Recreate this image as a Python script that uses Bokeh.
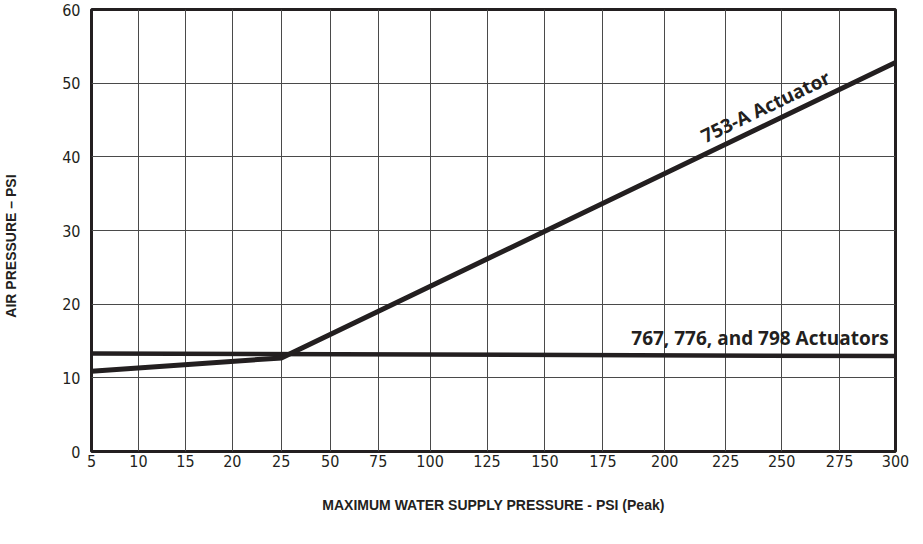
import numpy as np
from bokeh.plotting import figure
from bokeh.models import FixedTicker, Range1d
from bokeh.core.properties import value
from bokeh.embed import file_html
from bokeh.resources import INLINE

# ---- data ----
x_tick_labels = [5, 10, 15, 20, 25, 50, 75, 100, 125, 150, 175, 200, 225, 250, 275, 300]
y_ticks = [0, 10, 20, 30, 40, 50, 60]

pressure_753 = [5, 25, 300]
air_753 = [10.9, 12.7, 52.8]

pressure_767 = [5, 300]
air_767 = [13.3, 12.95]

label_753 = "753-A Actuator"
label_767 = "767, 776, and 798 Actuators"

# ---- piecewise x scale: axis position of each tick (chart's uneven grid) ----
x_tick_pos = [0, 47, 94, 141, 190, 239, 287, 339, 396, 454, 512, 574, 635, 691, 749, 805]


def xs(p):
    return np.interp(p, x_tick_labels, x_tick_pos)


INK = "#231f20"
TICK_FONT = "'Liberation Sans Narrow', 'DejaVu Sans Condensed', sans-serif"
TITLE_FONT = "'Liberation Sans Narrow', sans-serif"

FRAME_H = 442
p = figure(width=913, height=536, output_backend="svg", toolbar_location=None,
           x_range=Range1d(0, 805), y_range=Range1d(0, 60),
           min_border_left=91, min_border_right=18, min_border_top=9,
           min_border_bottom=85)
p.background_fill_color = "white"
p.border_fill_color = "white"
p.outline_line_color = INK
p.outline_line_width = 3

# axes
p.xaxis.ticker = FixedTicker(ticks=x_tick_pos)
p.xaxis.major_label_overrides = {pos: str(lab) for pos, lab in zip(x_tick_pos, x_tick_labels)}
p.yaxis.ticker = FixedTicker(ticks=y_ticks)
for ax in (p.xaxis[0], p.yaxis[0]):
    ax.axis_line_color = None
    ax.major_tick_line_color = None
    ax.minor_tick_line_color = None
    ax.major_label_text_font = TICK_FONT
    ax.major_label_text_font_size = "16px"
    ax.major_label_text_color = INK
    ax.axis_label_text_font = TITLE_FONT
    ax.axis_label_text_font_style = "bold"
    ax.axis_label_text_font_size = "14px"
    ax.axis_label_text_color = INK
p.xaxis.major_label_standoff = -3
p.yaxis.major_label_standoff = 5
p.xaxis.axis_label = "MAXIMUM WATER SUPPLY PRESSURE - PSI (Peak)"
p.xaxis.axis_label_standoff = 27
# trailing no-break spaces nudge the centred title a little below the frame centre
p.yaxis.axis_label = "AIR PRESSURE \u2013 PSI" + "\u00a0" * 8
p.yaxis.axis_label_standoff = 40

# grid
p.xgrid.grid_line_color = "#4a4a4a"
p.ygrid.grid_line_color = "#4a4a4a"
p.xgrid.grid_line_width = 1
p.ygrid.grid_line_width = 1

# lines
p.line(xs(pressure_767), air_767, line_color=INK, line_width=4.5)
p.line(xs(pressure_753), air_753, line_color=INK, line_width=5, line_join="miter")

# labels, anchored on the lines and offset above them (screen px)
ang = float(np.arctan2((air_753[2] - air_753[1]) * FRAME_H / 60, xs(300) - xs(25)))
x_lab = 218
y_on_line = float(np.interp(x_lab, pressure_753, air_753))
off = 15
p.text(x=[xs(x_lab)], y=[y_on_line], text=[label_753], angle=ang,
       x_offset=-off * np.sin(ang), y_offset=-off * np.cos(ang),
       text_font=value("Open Sans"), text_font_style="bold", text_font_size="19px",
       text_color=INK, text_align="left", text_baseline="alphabetic")
x_lab2 = 297
y_on_line2 = float(np.interp(x_lab2, pressure_767, air_767))
p.text(x=[xs(x_lab2)], y=[y_on_line2], text=[label_767], y_offset=-18,
       text_font=value("Open Sans"), text_font_style="bold", text_font_size="19px",
       text_color=INK, text_align="right", text_baseline="alphabetic")

open("out.html", "w").write(file_html(p, INLINE))
